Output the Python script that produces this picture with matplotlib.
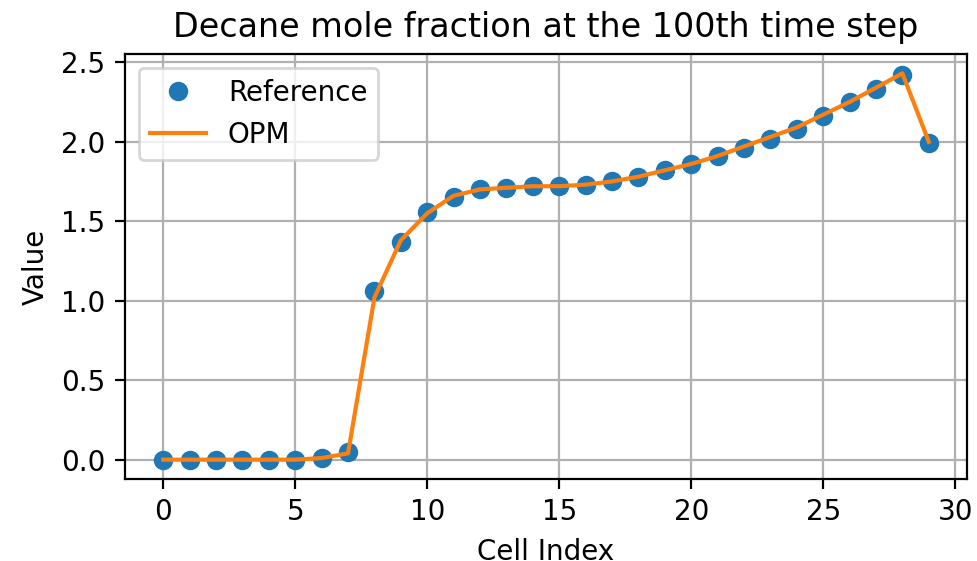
import matplotlib
matplotlib.use("Agg")
import matplotlib.pyplot as plt

cells = list(range(30))
reference = [0.0, 0.0, 0.0, 0.0, 0.0, 0.0, 0.01, 0.05, 1.06, 1.37,
             1.56, 1.65, 1.70, 1.71, 1.72, 1.72, 1.73, 1.75, 1.78, 1.82,
             1.86, 1.91, 1.96, 2.02, 2.08, 2.16, 2.25, 2.33, 2.42, 1.99]
opm = [0.0, 0.0, 0.0, 0.0, 0.0, 0.0, 0.01, 0.04, 1.02, 1.38,
       1.55, 1.66, 1.70, 1.71, 1.72, 1.72, 1.73, 1.75, 1.78, 1.82,
       1.86, 1.91, 1.97, 2.03, 2.09, 2.17, 2.25, 2.34, 2.43, 2.00]

dpi = 200
fig, ax = plt.subplots(figsize=(978 / dpi, 561 / dpi), dpi=dpi)
fig.subplots_adjust(left=0.1278, right=0.9888, bottom=0.1462, top=0.9037)

ax.plot(cells, reference, 'o', label='Reference')
ax.plot(cells, opm, '-', label='OPM')

ax.set_title('Decane mole fraction at the 100th time step')
ax.set_xlabel('Cell Index')
ax.set_ylabel('Value')
ax.grid(True)
ax.legend(loc='upper left')

fig.savefig('out.png', dpi=dpi)
